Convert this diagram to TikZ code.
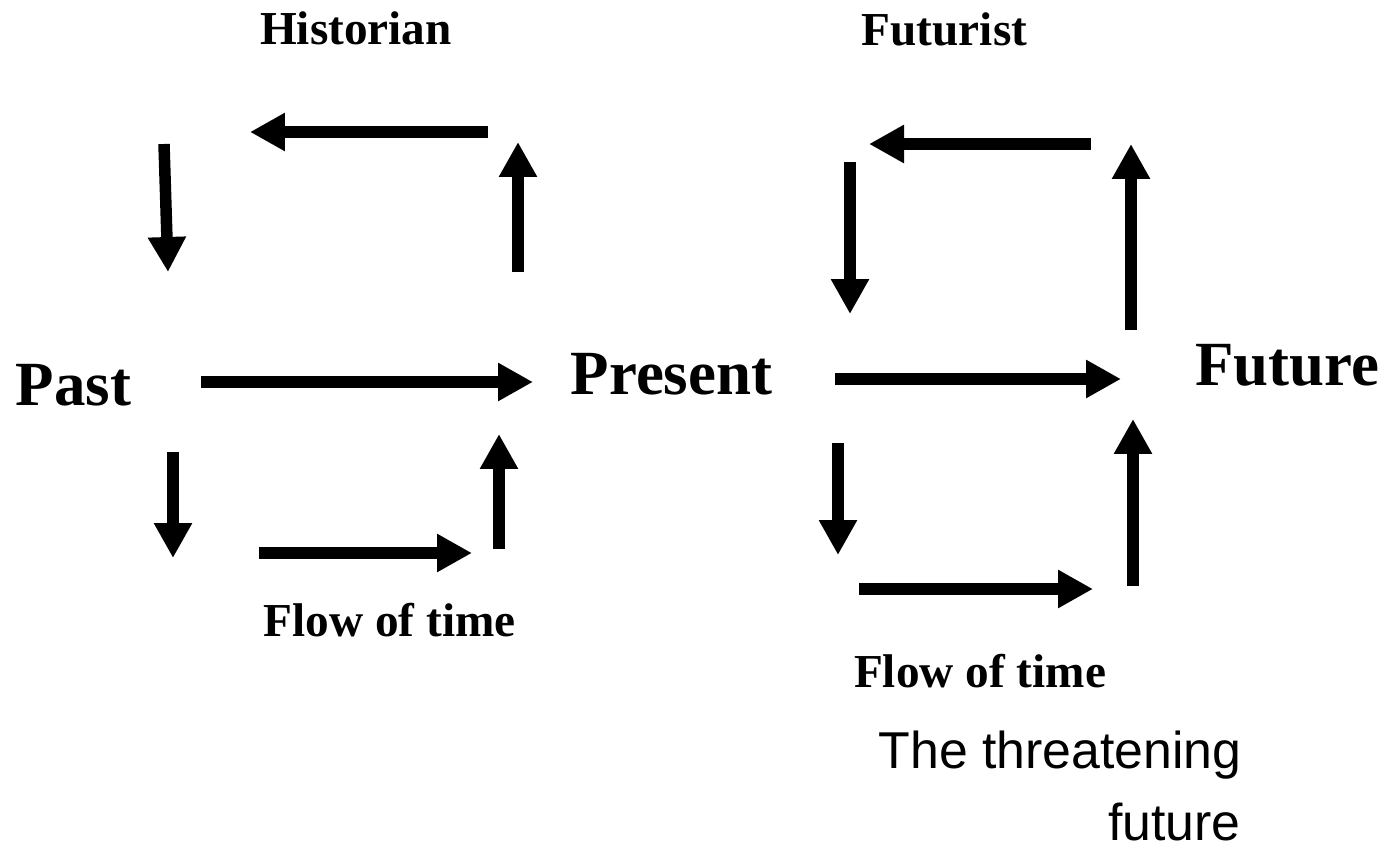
\documentclass[tikz,border=0pt]{standalone}
\usepackage{fontspec}
\setmainfont{Liberation Serif}
\newfontfamily\arialfont{Liberation Sans}
\usetikzlibrary{arrows.meta,positioning}

\tikzset{
	bigword/.style={inner sep=0pt, font=\bfseries\fontsize{35.8}{40}\selectfont},
	smallword/.style={inner sep=0pt, font=\bfseries\fontsize{26.9}{30}\selectfont},
	threat/.style={inner sep=0pt, font=\arialfont\fontsize{29.5}{34}\selectfont},
	timearrow/.style={line width=0.23cm, -{Triangle[length=0.7cm,width=0.72cm]}}
}

\begin{document}
\begin{tikzpicture}[x=0.02cm,y=-0.02cm]
	\useasboundingbox (0,0) rectangle (1387,852);
	% words
	\node[bigword, anchor=base] (past) at (73.5,405) {Past};
	\node[bigword, anchor=base] (present) at (671.5,394) {Present};
	\node[bigword, anchor=base] (future) at (1287.5,385) {Future};
	\node[smallword, anchor=base] (historian) at (356,44) {Historian};
	\node[smallword, anchor=base] (futurist) at (944.5,46) {Futurist};
	\node[smallword, anchor=base] (flowleft) at (389.5,636) {Flow of time};
	\node[smallword, anchor=base] (flowright) at (980,687) {Flow of time};
	\node[threat, anchor=base east] (threat1) at (1242,768) {The threatening};
	\node[threat, anchor=base east] (threat2) at (1241,840) {future};
	% historian loop
	\coordinate (a1s) at (488,132);  \coordinate (a1e) at (250,132);
	\coordinate (a2s) at (164,144);  \coordinate (a2e) at (168,272);
	\coordinate (a3s) at (518,272);  \coordinate (a3e) at (518,142);
	\coordinate (a4s) at (201,382);  \coordinate (a4e) at (533,382);
	\coordinate (a5s) at (173,452);  \coordinate (a5e) at (173,558);
	\coordinate (a6s) at (259,553);  \coordinate (a6e) at (472,553);
	\coordinate (a7s) at (499,549);  \coordinate (a7e) at (499,434);
	\draw[timearrow] (a1s)--(a1e);
	\draw[timearrow] (a2s)--(a2e);
	\draw[timearrow] (a3s)--(a3e);
	\draw[timearrow] (a4s)--(a4e);
	\draw[timearrow] (a5s)--(a5e);
	\draw[timearrow] (a6s)--(a6e);
	\draw[timearrow] (a7s)--(a7e);
	% futurist loop
	\coordinate (b1s) at (1091,144); \coordinate (b1e) at (869,144);
	\coordinate (b2s) at (850,162);  \coordinate (b2e) at (850,314);
	\coordinate (b3s) at (1131,330); \coordinate (b3e) at (1131,144);
	\coordinate (b4s) at (835,379);  \coordinate (b4e) at (1121,379);
	\coordinate (b5s) at (838,443);  \coordinate (b5e) at (838,555);
	\coordinate (b6s) at (859,589);  \coordinate (b6e) at (1093,589);
	\coordinate (b7s) at (1133,586); \coordinate (b7e) at (1133,419);
	\draw[timearrow] (b1s)--(b1e);
	\draw[timearrow] (b2s)--(b2e);
	\draw[timearrow] (b3s)--(b3e);
	\draw[timearrow] (b4s)--(b4e);
	\draw[timearrow] (b5s)--(b5e);
	\draw[timearrow] (b6s)--(b6e);
	\draw[timearrow] (b7s)--(b7e);
\end{tikzpicture}
\end{document}
